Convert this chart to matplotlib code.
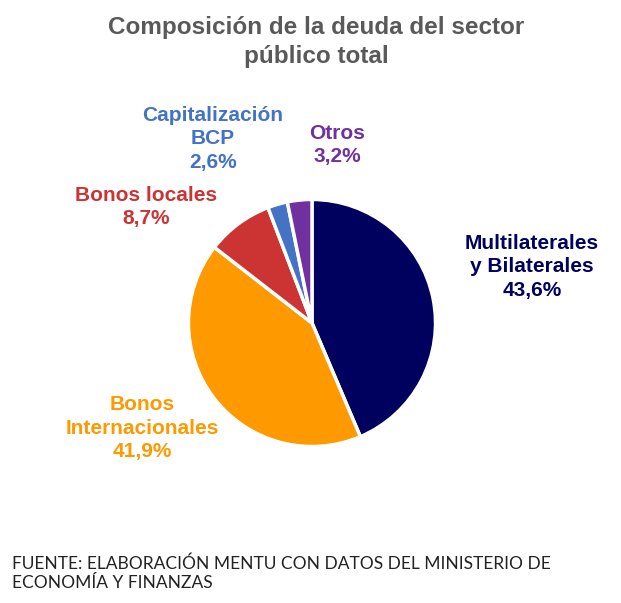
import matplotlib
matplotlib.use("Agg")
import matplotlib.pyplot as plt

categorias = ["Multilaterales\ny Bilaterales", "Bonos\nInternacionales", "Bonos locales",
              "Capitalización\nBCP", "Otros"]
valores = [43.6, 41.9, 8.7, 2.6, 3.2]
colores = ["#00005e", "#ff9900", "#cc3333", "#4472c4", "#7030a0"]
# label block centers in pixels, layout only
pos_labels = [(532, 267), (142, 428), (146, 207), (213, 139), (337, 145)]

W, H = 621, 603
fig = plt.figure(figsize=(W / 100, H / 100), dpi=100)
plt.rcParams["font.family"] = ["Liberation Sans", "DejaVu Sans"]

cx, cy, r = 312, 323, 126
ax = fig.add_axes([(cx - r) / W, (H - cy - r) / H, 2 * r / W, 2 * r / H])
ax.pie(valores, colors=colores, startangle=90, counterclock=False, radius=1,
       wedgeprops=dict(edgecolor="white", linewidth=2.5))
ax.set_xlim(-1.02, 1.02)
ax.set_ylim(-1.02, 1.02)
ax.set_aspect("equal")
ax.axis("off")

fig.text(316 / W, 1 - 42 / H, "Composición de la deuda del sector\npúblico total",
         ha="center", va="center", fontsize=17.5, fontweight="bold", color="#595959",
         linespacing=1.35)

for cat, v, c, (x, y) in zip(categorias, valores, colores, pos_labels):
    txt = cat + "\n" + f"{v:.1f}".replace(".", ",") + "%"
    fig.text(x / W, 1 - y / H, txt, ha="center", va="center", fontsize=15,
             fontweight="bold", color=c, linespacing=1.28)

fig.text(12 / W, 1 - 573 / H,
         "FUENTE: ELABORACIÓN MENTU CON DATOS DEL MINISTERIO DE\nECONOMÍA Y FINANZAS",
         ha="left", va="center", fontsize=12.5, color="#222222", family="Lato",
         linespacing=1.25)

fig.savefig("out.png", dpi=100, facecolor="white")
